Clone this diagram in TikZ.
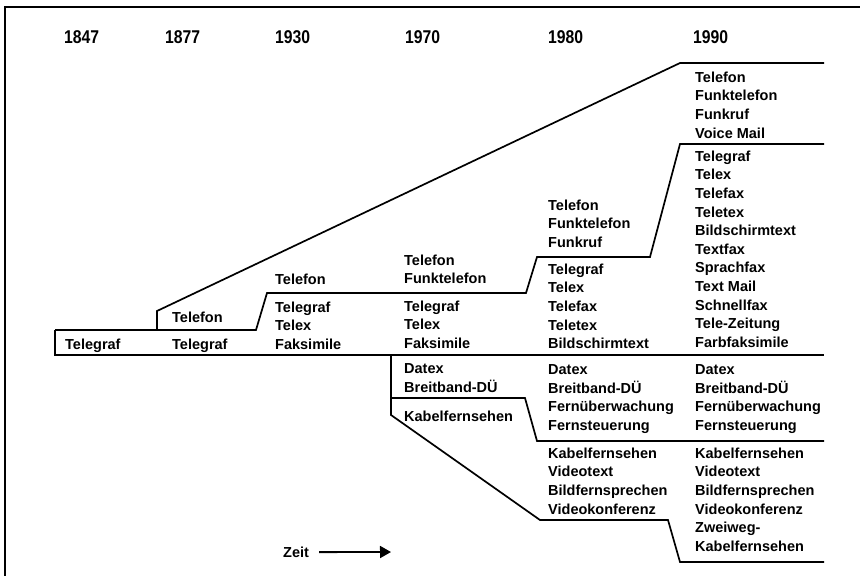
\documentclass[tikz,border=0pt]{standalone}
\usepackage{fontspec}
\setmainfont{Liberation Sans}
\newfontfamily\jahrfont[FakeStretch=0.85]{Liberation Sans}
\usetikzlibrary{arrows.meta}

\tikzset{
  eintrag/.style={anchor=north west, inner sep=0pt, align=left,
    font=\bfseries\fontsize{14.5}{18.6}\selectfont},
  jahr/.style={anchor=north west, inner sep=0pt,
    font=\jahrfont\bfseries\fontsize{18.5}{20}\selectfont},
  band/.style={line width=1.7pt, line join=miter},
  rahmen/.style={line width=1.5pt},
  pfeil/.style={line width=1.8pt, -{Triangle[length=11pt,width=12pt]}}
}

\begin{document}
\begin{tikzpicture}[x=1pt,y=-1pt]
\useasboundingbox (0,0) rectangle (860,576);
\draw[rahmen] (5,576) -- (5,7) -- (860,7);

\node[jahr] (j1847) at (64,30) {1847};
\node[jahr] (j1877) at (165,30) {1877};
\node[jahr] (j1930) at (275,30) {1930};
\node[jahr] (j1970) at (405,30) {1970};
\node[jahr] (j1980) at (548,30) {1980};
\node[jahr] (j1990) at (693,30) {1990};

\draw[band] (55,330) -- (55,355) -- (824,355);
\draw[band] (55,330) -- (256,330) -- (267,293) -- (526,293) -- (537,257)
  -- (650,257) -- (680,144) -- (824,144);
\draw[band] (157,330) -- (157,311) -- (680,63) -- (824,63);
\draw[band] (391,355) -- (391,415) -- (540,520) -- (668,520) -- (680,562)
  -- (824,562);
\draw[band] (391,398) -- (525,398) -- (537,441) -- (824,441);

\node[eintrag] (tel1847) at (65,338.6) {Telegraf};

\node[eintrag] (fon1877) at (172,311.6) {Telefon};
\node[eintrag] (tel1877) at (172,338.6) {Telegraf};

\node[eintrag] (fon1930) at (275,273.6) {Telefon};
\node[eintrag] (tel1930) at (275,301.6) {Telegraf\\Telex\\Faksimile};

\node[eintrag] (fon1970) at (404,254.6) {Telefon\\Funktelefon};
\node[eintrag] (tel1970) at (404,300.6) {Telegraf\\Telex\\Faksimile};
\node[eintrag] (dat1970) at (404,363.6) {Datex\\Breitband-DÜ};
\node[eintrag] (kab1970) at (404,410.6) {Kabelfernsehen};

\node[eintrag] (fon1980) at (548,199.6) {Telefon\\Funktelefon\\Funkruf};
\node[eintrag] (tel1980) at (548,263.6)
  {Telegraf\\Telex\\Telefax\\Teletex\\Bildschirmtext};
\node[eintrag] (dat1980) at (548,364.6)
  {Datex\\Breitband-DÜ\\Fernüberwachung\\Fernsteuerung};
\node[eintrag] (kab1980) at (548,447.6)
  {Kabelfernsehen\\Videotext\\Bildfernsprechen\\Videokonferenz};

\node[eintrag] (fon1990) at (695,71.6)
  {Telefon\\Funktelefon\\Funkruf\\Voice Mail};
\node[eintrag] (tel1990) at (695,150.6)
  {Telegraf\\Telex\\Telefax\\Teletex\\Bildschirmtext\\Textfax\\Sprachfax\\Text Mail\\Schnellfax\\Tele-Zeitung\\Farbfaksimile};
\node[eintrag] (dat1990) at (695,364.6)
  {Datex\\Breitband-DÜ\\Fernüberwachung\\Fernsteuerung};
\node[eintrag] (kab1990) at (695,447.6)
  {Kabelfernsehen\\Videotext\\Bildfernsprechen\\Videokonferenz\\Zweiweg-\\Kabelfernsehen};

\node[eintrag] (zeit) at (283,546.6) {Zeit};
\coordinate (zeitspitze) at (391,552);
\draw[pfeil] ([xshift=10pt]zeit.east) -- (zeitspitze);
\end{tikzpicture}
\end{document}
